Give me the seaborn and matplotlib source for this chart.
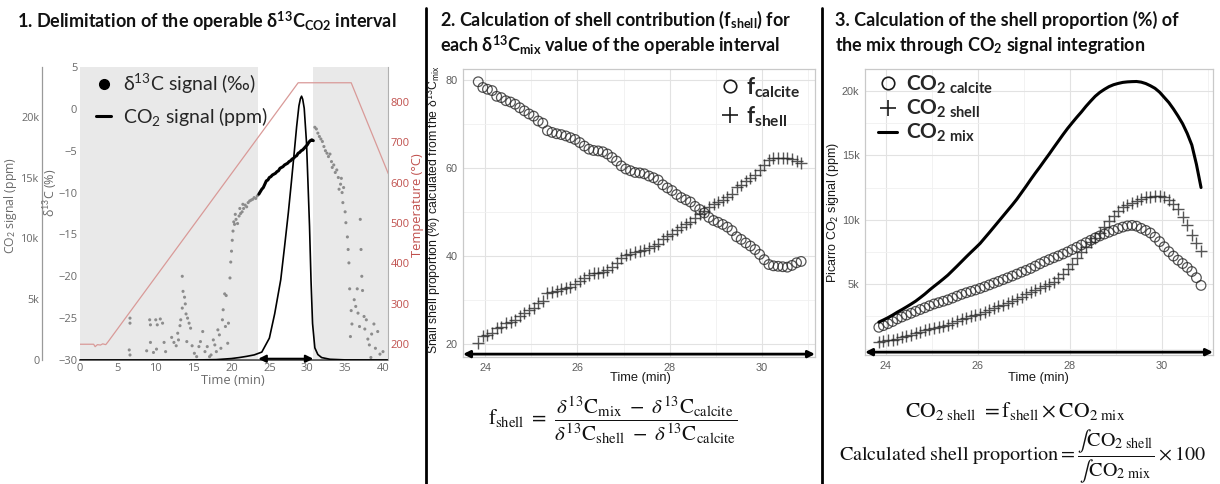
import numpy as np
import pandas as pd
import matplotlib
matplotlib.use("Agg")
import matplotlib.pyplot as plt
import matplotlib.ticker as mticker
from matplotlib.lines import Line2D
import seaborn as sns

# ---------------- panel 1: full thermal run ----------------
TEMP_TIME = [0, 1.8, 2.0, 2.3, 2.7, 3.0, 3.4, 3.7, 28.8, 35.8, 40.7]
TEMP_C = [200, 200, 194, 199, 198, 201, 199, 206, 847, 847, 622]

CO2_TIME = [0, 15, 18, 20, 21, 22, 23, 24, 25, 25.7, 26.5, 27, 27.5, 27.9, 28.3,
            28.6, 28.9, 29.1, 29.25, 29.4, 29.6, 29.9, 30.1, 30.3, 30.5, 30.7,
            31.0, 31.4, 31.9, 33, 35, 40.7]
CO2_PPM = [0, 0, 30, 120, 200, 300, 420, 650, 1800, 3800, 6600, 9300, 12100, 14600, 17200,
           19200, 20900, 21500, 21700, 21450, 20700, 17900, 14500, 11000, 6500, 3000,
           1000, 450, 200, 60, 10, 0]

# grey d13C points outside the operable window
D13C_BG_TIME = [6.6, 6.6, 6.5, 6.6, 8.8, 9.2, 9.3, 9.3, 9.7,
                10.0, 10.2, 10.1, 10.6, 10.9, 11.1, 11.3,
                12.1, 12.4, 12.7, 12.9, 13.0,
                13.2, 13.3, 13.5, 13.6, 13.5, 13.8, 13.9, 14.0, 14.2, 14.4, 14.6, 14.1,
                14.8, 15.1, 15.4, 15.7, 15.9, 16.2, 16.5, 16.8, 17.1, 17.3,
                17.6, 17.8, 18.0, 18.2, 18.4, 18.6, 18.8, 18.9, 19.1, 19.2, 19.3, 19.5, 19.6,
                19.8, 19.9, 20.0, 20.1, 20.2, 20.3, 20.4, 20.5, 20.6, 20.8, 21.0, 21.1, 21.2,
                21.4, 21.5, 21.6, 21.8, 22.0, 22.2, 22.4, 22.6, 22.8, 23.0, 23.2, 23.4,
                31.0, 31.2, 31.4, 31.6, 31.8, 32.0, 32.2, 32.4, 32.6, 32.8, 33.0, 33.2,
                33.3, 33.5, 33.7, 33.9, 34.1, 34.2, 34.4, 34.5, 34.6, 34.7, 34.8, 35.0,
                35.1, 35.3, 35.4, 35.5, 35.6, 35.8, 35.9, 35.7, 36.2, 36.4, 36.6, 36.7,
                36.9, 37.0, 37.1, 37.2, 37.3, 37.5, 37.6, 37.8, 38.0, 38.2, 38.5, 38.8,
                39.0, 39.3, 39.6, 40.0, 38.4]
D13C_BG = [-25.0, -25.6, -28.8, -29.4, -28.9, -25.2, -25.8, -27.9, -29.1,
           -25.2, -25.8, -28.7, -25.1, -25.6, -27.9, -29.0,
           -27.3, -27.9, -28.3, -26.8, -27.6,
           -25.9, -25.2, -23.8, -21.8, -20.0, -22.5, -23.3, -24.5, -25.0, -25.6, -26.2, -27.8,
           -28.3, -29.2, -29.6, -28.4, -27.8, -26.6, -29.0, -28.4, -29.6, -29.4,
           -27.6, -28.2, -29.0, -26.4, -27.0, -28.6, -25.2, -24.0, -22.1, -26.0, -22.3, -28.0, -25.6,
           -20.2, -18.3, -17.0, -15.7, -14.6, -13.5, -13.8, -12.6, -13.2, -13.7, -12.8, -11.9, -12.5,
           -12.3, -11.4, -11.9, -11.5, -11.7, -11.2, -11.0, -10.9, -10.8, -10.6, -10.7, -10.4,
           -2.2, -2.4, -2.9, -3.3, -3.6, -3.9, -4.5, -5.0, -5.3, -5.7, -5.4, -6.3,
           -7.0, -6.7, -7.6, -7.3, -8.2, -9.6, -9.0, -8.3, -10.0, -11.2, -9.4, -12.3,
           -13.6, -15.3, -16.8, -18.4, -21.5, -24.1, -25.7, -27.2, -22.8, -23.6, -21.5, -24.4,
           -26.0, -13.2, -16.8, -20.0, -21.7, -24.8, -26.3, -25.2, -27.5, -28.2, -26.9, -25.7,
           -28.6, -26.6, -29.3, -29.0, -29.7]

# black d13C points inside the operable window
D13C_MIX_TIME = [23.6, 23.8, 24.0, 24.2, 24.4, 24.6, 24.8, 25.0, 25.2, 25.4,
                 25.6, 25.8, 26.0, 26.2, 26.4, 26.6, 26.8, 27.0, 27.2, 27.4,
                 27.6, 27.8, 28.0, 28.2, 28.4, 28.6, 28.8, 29.0, 29.2, 29.4,
                 29.6, 29.8, 30.0, 30.2, 30.4, 30.6, 30.8]
D13C_MIX = [-10.2, -9.9, -9.6, -9.4, -9.0, -8.6, -8.5, -8.2, -8.1, -7.9,
            -7.8, -7.7, -7.5, -7.4, -7.1, -7.0, -6.9, -6.7, -6.6, -6.5,
            -6.3, -6.2, -6.0, -5.9, -5.7, -5.6, -5.3, -5.2, -5.0, -4.9,
            -4.7, -4.5, -4.3, -4.0, -3.8, -3.7, -3.8]

INTERVAL = [23.55, 30.8]  # operable window (min)

# ---------------- panels 2 and 3: operable window ----------------
T_MIX = [23.85, 23.95, 24.05, 24.15, 24.25, 24.35, 24.45, 24.55, 24.65, 24.75,
         24.85, 24.95, 25.05, 25.15, 25.25, 25.35, 25.45, 25.55, 25.65, 25.75,
         25.85, 25.95, 26.05, 26.15, 26.25, 26.35, 26.45, 26.55, 26.65, 26.75,
         26.85, 26.95, 27.05, 27.15, 27.25, 27.35, 27.45, 27.55, 27.65, 27.75,
         27.85, 27.95, 28.05, 28.15, 28.25, 28.35, 28.45, 28.55, 28.65, 28.75,
         28.85, 28.95, 29.05, 29.15, 29.25, 29.35, 29.45, 29.55, 29.65, 29.75,
         29.85, 29.95, 30.05, 30.15, 30.25, 30.35, 30.45, 30.55, 30.65, 30.75,
         30.85]
F_CALCITE = [79.6, 78.3, 77.9, 77.6, 76.3, 76.0, 75.3, 75.0, 74.5, 73.7,
             73.0, 72.3, 71.8, 70.7, 70.2, 68.5, 68.1, 67.8, 67.6, 67.3,
             66.9, 66.5, 65.8, 65.0, 64.3, 64.0, 63.9, 63.7, 63.2, 62.4,
             61.6, 60.5, 59.8, 59.4, 59.0, 58.9, 58.7, 58.2, 57.8, 57.3,
             56.2, 55.5, 54.9, 54.0, 53.3, 52.8, 52.3, 51.3, 50.6, 49.8,
             48.8, 48.1, 47.7, 47.2, 46.6, 45.8, 44.4, 43.8, 43.0, 42.3,
             41.5, 40.4, 39.2, 38.1, 37.8, 37.7, 37.6, 37.5, 37.9, 38.5,
             38.8]
F_SHELL = [20.3, 21.8, 22.2, 22.5, 23.7, 24.0, 24.8, 25.0, 25.5, 26.3,
           27.0, 27.8, 28.2, 29.3, 29.9, 31.6, 31.9, 32.2, 32.5, 32.8,
           33.1, 33.6, 34.3, 35.0, 35.7, 36.1, 36.2, 36.3, 36.9, 37.6,
           38.5, 39.5, 40.2, 40.6, 41.0, 41.1, 41.4, 41.8, 42.2, 42.8,
           43.8, 44.6, 45.1, 46.0, 46.7, 47.2, 47.8, 48.7, 49.5, 50.2,
           51.2, 51.9, 52.4, 52.8, 53.5, 54.2, 55.6, 56.2, 57.0, 57.8,
           58.5, 59.6, 60.8, 61.9, 62.2, 62.3, 62.4, 62.4, 62.1, 61.5,
           61.2]
CO2_MIX = [2050, 2220, 2400, 2600, 2820, 3020, 3230, 3450, 3680, 3950,
           4230, 4540, 4830, 5110, 5400, 5700, 6050, 6400, 6760, 7120,
           7470, 7810, 8160, 8580, 9000, 9430, 9860, 10290, 10720, 11150,
           11600, 12100, 12600, 13120, 13620, 14100, 14600, 15090, 15600, 16100,
           16600, 17080, 17520, 17950, 18360, 18800, 19200, 19580, 19880, 20120,
           20330, 20480, 20580, 20660, 20700, 20720, 20730, 20680, 20570, 20400,
           20200, 19900, 19500, 19100, 18600, 18050, 17450, 16700, 15800, 14300,
           12500]
CO2_CALCITE = [1650, 1780, 1930, 2100, 2300, 2450, 2600, 2740, 2890, 3030,
               3170, 3320, 3460, 3560, 3670, 3780, 3920, 4070, 4210, 4330,
               4440, 4550, 4670, 4800, 4940, 5080, 5210, 5350, 5490, 5630,
               5780, 5930, 6070, 6220, 6400, 6580, 6750, 6900, 7050, 7190,
               7340, 7500, 7680, 7860, 8040, 8220, 8400, 8580, 8740, 8890,
               9030, 9170, 9310, 9430, 9520, 9560, 9500, 9330, 9170, 8970,
               8650, 8300, 7900, 7520, 7180, 6860, 6600, 6300, 5980, 5500,
               4900]
CO2_SHELL = [500, 560, 630, 700, 780, 880, 980, 1090, 1200, 1310,
             1420, 1530, 1620, 1700, 1770, 1840, 1960, 2110, 2260, 2390,
             2500, 2610, 2720, 2860, 2990, 3130, 3270, 3410, 3560, 3700,
             3860, 4040, 4230, 4420, 4560, 4700, 4830, 4980, 5200, 5470,
             5820, 6180, 6580, 7010, 7480, 7880, 8250, 8620, 8980, 9420,
             9880, 10300, 10700, 10950, 11150, 11330, 11480, 11620, 11730, 11800,
             11820, 11810, 11750, 11550, 11250, 10800, 10250, 9600, 8800, 8200,
             7600]

sns.set_theme(style="white")
plt.rcParams['font.family'] = ['Lato', 'DejaVu Sans']
plt.rcParams['mathtext.fontset'] = 'custom'
plt.rcParams['mathtext.rm'] = 'Lato'
plt.rcParams['mathtext.it'] = 'Lato:italic'
plt.rcParams['mathtext.bf'] = 'Lato:bold'

W, H = 1220, 484
fig = plt.figure(figsize=(W / 100, H / 100), dpi=100)


def fx(x):
    return x / W


def fy(y):
    return 1 - y / H


def box(x0, y0, x1, y1):
    return [fx(x0), fy(y1), (x1 - x0) / W, (y1 - y0) / H]


GREY_TXT = '#6a6a6a'
RED = '#c0504d'

# ================= panel 1 =================
df_temp = pd.DataFrame({'time': TEMP_TIME, 'temp': TEMP_C})
df_co2 = pd.DataFrame({'time': CO2_TIME, 'co2': CO2_PPM})
df_bg = pd.DataFrame({'time': D13C_BG_TIME, 'd13c': D13C_BG})
df_mix = pd.DataFrame({'time': D13C_MIX_TIME, 'd13c': D13C_MIX})

ax1 = fig.add_axes(box(80, 67, 388, 360))
ax1.axvspan(0, INTERVAL[0], color='#e9e9e9', lw=0, zorder=0)
ax1.axvspan(INTERVAL[1], 45, color='#e9e9e9', lw=0, zorder=0)
sns.scatterplot(data=df_bg, x='time', y='d13c', ax=ax1, s=5, color='#8c8c8c',
                edgecolor='none', legend=False, zorder=3)
sns.lineplot(data=df_mix, x='time', y='d13c', ax=ax1, color='black', lw=2.2,
             estimator=None, sort=False, zorder=4)
ax1.set_xlim(0, 40.66)
ax1.set_ylim(-30, 5)
ax1.set_xticks(range(0, 41, 5))
ax1.set_yticks(range(-30, 6, 5))
ax1.set_xlabel('')
ax1.set_ylabel('')
for s in ['left', 'top', 'right']:
    ax1.spines[s].set_visible(False)
ax1.spines['bottom'].set_color('#555555')
ax1.spines['bottom'].set_linewidth(1.3)
ax1.tick_params(axis='both', length=0, labelsize=8, labelcolor=GREY_TXT, pad=2)
for lab in ax1.get_xticklabels() + ax1.get_yticklabels():
    lab.set_fontfamily('Open Sans')

ax_co2 = ax1.twinx()
sns.lineplot(data=df_co2, x='time', y='co2', ax=ax_co2, color='black', lw=1.2,
             estimator=None, sort=False)
ax_co2.set_ylim(0, 24100)
ax_co2.yaxis.tick_left()
ax_co2.spines['left'].set_position(('axes', -0.123))
ax_co2.spines['left'].set_visible(True)
ax_co2.spines['left'].set_color('#9a9a9a')
ax_co2.spines['left'].set_linewidth(0.9)
for s in ['right', 'top', 'bottom']:
    ax_co2.spines[s].set_visible(False)
ax_co2.set_yticks([0, 5000, 10000, 15000, 20000])
ax_co2.set_yticklabels(['0', '5k', '10k', '15k', '20k'])
ax_co2.set_ylabel('')
ax_co2.tick_params(axis='y', length=0, labelsize=7.8, labelcolor=GREY_TXT, pad=2)
for lab in ax_co2.get_yticklabels():
    lab.set_fontfamily('Open Sans')

ax_t = ax1.twinx()
sns.lineplot(data=df_temp, x='time', y='temp', ax=ax_t, color='#d99a98', lw=0.9,
             estimator=None, sort=False)
ax_t.set_ylim(161, 886)
ax_t.set_yticks(range(200, 801, 100))
ax_t.set_ylabel('')
for s in ['left', 'top', 'bottom']:
    ax_t.spines[s].set_visible(False)
ax_t.spines['right'].set_color('#b0b0b0')
ax_t.spines['right'].set_linewidth(0.8)
ax_t.tick_params(axis='y', length=0, labelsize=8, labelcolor=RED, pad=2)
for lab in ax_t.get_yticklabels():
    lab.set_fontfamily('Open Sans')
ax1.set_xlim(0, 40.66)

ax1.annotate('', xy=(INTERVAL[1], -29.85), xytext=(INTERVAL[0], -29.85),
             arrowprops=dict(arrowstyle='<|-|>', color='black', lw=1.5,
                             mutation_scale=11, shrinkA=0, shrinkB=0),
             annotation_clip=False, zorder=6)

fig.text(fx(11), fy(205), 'CO$_2$ signal (ppm)', rotation=90, ha='center', va='center',
         fontsize=8.8, color=GREY_TXT, family='Open Sans')
fig.text(fx(50), fy(193), r'δ$^{13}$C (%)', rotation=90, ha='center', va='center',
         fontsize=9, color=GREY_TXT, family=['Open Sans', 'DejaVu Sans'])
fig.text(fx(418), fy(205), 'Temperature (°C)', rotation=90, ha='center', va='center',
         fontsize=9.3, color=RED, family='Open Sans')
fig.text(fx(233), fy(381), 'Time (min)', ha='center', va='center',
         fontsize=9.3, color=GREY_TXT, family='Open Sans')

h1 = [Line2D([], [], marker='o', ls='none', color='black', ms=7),
      Line2D([], [], color='black', lw=2.2)]
ax1.legend(h1, [r'δ$^{13}$C signal (‰)', 'CO$_2$ signal (ppm)'], loc='upper left',
           bbox_to_anchor=(fx(86), fy(62)), bbox_transform=fig.transFigure,
           frameon=False, fontsize=14, handlelength=0.8, handletextpad=0.6,
           labelspacing=0.45, borderpad=0)


def gg_axes(ax):
    ax.set_axisbelow(True)
    ax.xaxis.set_minor_locator(mticker.MultipleLocator(1))
    ax.grid(which='major', color='#e2e2e2', lw=0.8)
    ax.grid(which='minor', color='#f0f0f0', lw=0.6)
    for s in ax.spines.values():
        s.set_color('#c9c9c9')
        s.set_linewidth(0.9)
    ax.tick_params(which='major', length=2.5, width=0.6, color='#666666', labelsize=7.8,
                   labelcolor='#5e5e5e', pad=1.5)
    ax.tick_params(which='minor', length=0)
    for lab in ax.get_xticklabels() + ax.get_yticklabels():
        lab.set_fontfamily('Liberation Sans')
    ax.set_xlabel('')
    ax.set_ylabel('')
    ax.annotate('', xy=(1.0, 0.01), xytext=(0.0, 0.01), xycoords='axes fraction',
                textcoords='axes fraction',
                arrowprops=dict(arrowstyle='<|-|>', color='black', lw=2.0,
                                mutation_scale=10, shrinkA=0, shrinkB=0),
                annotation_clip=False)


# ================= panel 2 =================
df_f = pd.DataFrame({'time': T_MIX, 'f_calcite': F_CALCITE, 'f_shell': F_SHELL})
ax2 = fig.add_axes(box(463, 69, 815, 357))
sns.scatterplot(data=df_f, x='time', y='f_calcite', ax=ax2, marker='o', s=48,
                facecolor='none', edgecolor='#2a2a2a', linewidth=0.9, alpha=0.8, legend=False)
sns.scatterplot(data=df_f, x='time', y='f_shell', ax=ax2, marker='+', s=70,
                color='#2a2a2a', linewidth=1.0, alpha=0.8, legend=False)
ax2.set_xlim(23.52, 31.15)
ax2.set_ylim(17.1, 82.5)
ax2.set_xticks([24, 26, 28, 30])
ax2.set_yticks([20, 40, 60, 80])
ax2.yaxis.set_minor_locator(mticker.MultipleLocator(10))
gg_axes(ax2)

h2 = [Line2D([], [], marker='o', ls='none', mfc='none', mec='#1a1a1a', ms=9, mew=1.2),
      Line2D([], [], marker='+', ls='none', color='#1a1a1a', ms=12, mew=1.2)]
ax2.legend(h2, [r'$\mathbf{f_{calcite}}$', r'$\mathbf{f_{shell}}$'], loc='upper right',
           bbox_to_anchor=(fx(812), fy(64)), bbox_transform=fig.transFigure,
           frameon=False, fontsize=16, handlelength=0.9, handletextpad=0.3,
           labelspacing=0.2, borderpad=0)

fig.text(fx(434), fy(210), r'Snail shell proportion (%) calculated from the δ$^{13}$C$_{\mathrm{mix}}$',
         rotation=90, ha='center', va='center', fontsize=8.8, color='#1a1a1a',
         family=['Liberation Sans', 'DejaVu Sans'])
fig.text(fx(640), fy(378), 'Time (min)', ha='center', va='center', fontsize=9.3,
         color='#1a1a1a', family='Liberation Sans')

# ================= panel 3 =================
df_c = pd.DataFrame({'time': T_MIX, 'mix': CO2_MIX, 'calcite': CO2_CALCITE,
                     'shell': CO2_SHELL})
ax3 = fig.add_axes(box(865, 69, 1213, 355))
sns.lineplot(data=df_c, x='time', y='mix', ax=ax3, color='black', lw=2.2,
             estimator=None, sort=False)
sns.scatterplot(data=df_c, x='time', y='calcite', ax=ax3, marker='o', s=48,
                facecolor='none', edgecolor='#2a2a2a', linewidth=0.9, alpha=0.8, legend=False)
sns.scatterplot(data=df_c, x='time', y='shell', ax=ax3, marker='+', s=70,
                color='#2a2a2a', linewidth=1.0, alpha=0.8, legend=False)
ax3.set_xlim(23.55, 31.11)
ax3.set_ylim(-500, 21700)
ax3.set_xticks([24, 26, 28, 30])
ax3.set_yticks([5000, 10000, 15000, 20000])
ax3.yaxis.set_major_formatter(mticker.FuncFormatter(lambda v, _: f'{int(v / 1000)}k'))
ax3.yaxis.set_minor_locator(mticker.MultipleLocator(2500))
gg_axes(ax3)

h3 = [Line2D([], [], marker='o', ls='none', mfc='none', mec='#1a1a1a', ms=9, mew=1.2),
      Line2D([], [], marker='+', ls='none', color='#1a1a1a', ms=12, mew=1.2),
      Line2D([], [], color='black', lw=2.2)]
ax3.legend(h3, [r'$\mathbf{CO_{2\ calcite}}$', r'$\mathbf{CO_{2\ shell}}$',
                r'$\mathbf{CO_{2\ mix}}$'], loc='upper left',
           bbox_to_anchor=(fx(868), fy(63)), bbox_transform=fig.transFigure,
           frameon=False, fontsize=15, handlelength=0.9, handletextpad=0.4,
           labelspacing=0.1, borderpad=0)

fig.text(fx(833), fy(213), 'Picarro CO$_2$ signal (ppm)', rotation=90, ha='center',
         va='center', fontsize=9, color='#1a1a1a', family='Liberation Sans')
fig.text(fx(1038), fy(378), 'Time (min)', ha='center', va='center', fontsize=9.3,
         color='#1a1a1a', family='Liberation Sans')

# ================= titles, separators, equations =================
fig.text(fx(17), fy(21), r'1. Delimitation of the operable δ$^{\mathbf{13}}$C$_{\mathbf{CO2}}$ interval',
         ha='left', va='center', fontsize=13, fontweight='bold', color='#111111')
fig.text(fx(440), fy(20), r'2. Calculation of shell contribution (f$_{\mathbf{shell}}$) for',
         ha='left', va='center', fontsize=13, fontweight='bold', color='#111111')
fig.text(fx(440), fy(45), r'each δ$^{\mathbf{13}}$C$_{\mathbf{mix}}$ value of the operable interval',
         ha='left', va='center', fontsize=13, fontweight='bold', color='#111111')
fig.text(fx(835), fy(20), '3. Calculation of the shell proportion (%) of',
         ha='left', va='center', fontsize=13, fontweight='bold', color='#111111')
fig.text(fx(835), fy(45), 'the mix through CO$_{\\mathbf{2}}$ signal integration',
         ha='left', va='center', fontsize=13, fontweight='bold', color='#111111')

for xs in (426, 822):
    fig.add_artist(Line2D([fx(xs), fx(xs)], [fy(8), fy(484)], color='black', lw=2.0))

fig.text(fx(613), fy(420),
         r'$\mathrm{f_{shell}}\ =\ \dfrac{\delta^{13}\mathrm{C_{mix}}\ -\ \delta^{13}\mathrm{C_{calcite}}}'
         r'{\delta^{13}\mathrm{C_{shell}}\ -\ \delta^{13}\mathrm{C_{calcite}}}$',
         ha='center', va='center', fontsize=15, math_fontfamily='stix', color='#111111')
fig.text(fx(1015), fy(411),
         r'$\mathrm{CO_{2\ shell}}\ = \mathrm{f_{shell}} \times \mathrm{CO_{2\ mix}}$',
         ha='center', va='center', fontsize=15.5, math_fontfamily='stix', color='#111111')
fig.text(fx(1022), fy(456),
         r'$\mathrm{Calculated\ shell\ proportion} = \dfrac{\int\mathrm{CO_{2\ shell}}}'
         r'{\int\mathrm{CO_{2\ mix}}} \times 100$',
         ha='center', va='center', fontsize=14.5, math_fontfamily='stix', color='#111111')

fig.savefig('out.png', dpi=100)
